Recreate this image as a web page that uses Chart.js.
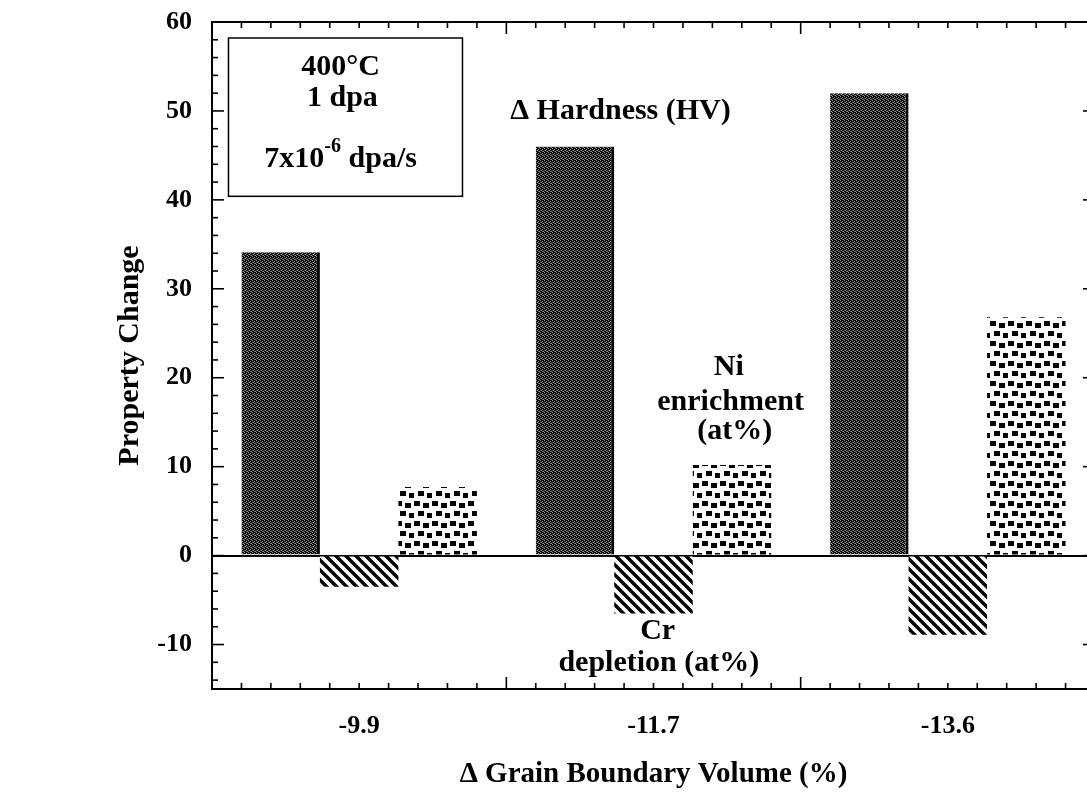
<!DOCTYPE html>
<html><head><meta charset="utf-8">
<script src="https://cdn.jsdelivr.net/npm/chart.js@4.4.1/dist/chart.umd.min.js"></script>
<style>
html,body{margin:0;padding:0;background:#fff;overflow:hidden;width:1087px;height:801px}
#wrap{position:relative;width:1110px;height:801px}
</style></head>
<body><div id="wrap"><canvas id="c" width="1110" height="801"></canvas></div>
<script>
// ---- data ----
const categories = ['-9.9', '-11.7', '-13.6'];
const hardness = [34.1, 46.0, 52.0];
const crDepletion = [-3.5, -6.5, -8.9];
const niEnrichment = [7.7, 10.2, 26.8];
const yTickValues = [-10, 0, 10, 20, 30, 40, 50, 60];
const yMin = -15, yMax = 60;

const FONT = '"Liberation Serif", "Times New Roman", Times, serif';

function makePattern(w, h, draw) {
  const c = document.createElement('canvas');
  c.width = w; c.height = h;
  const g = c.getContext('2d');
  draw(g, w, h);
  return g.createPattern(c, 'repeat');
}
const hardPat = makePattern(4, 4, (g) => {
  g.fillStyle = '#080808'; g.fillRect(0, 0, 4, 4);
  g.fillStyle = '#9a9a9a';
  [[0,0],[2,1],[1,2],[3,3]].forEach(p => g.fillRect(p[0], p[1], 1, 1));
  g.fillStyle = '#4a4a4a';
  [[2,3],[0,2]].forEach(p => g.fillRect(p[0], p[1], 1, 1));
});
const crPat = makePattern(10, 10, (g) => {
  g.fillStyle = '#fff'; g.fillRect(0, 0, 10, 10);
  g.strokeStyle = '#000'; g.lineWidth = 3.4; g.lineCap = 'square';
  [-10, 0, 10].forEach(o => { g.beginPath(); g.moveTo(o, 0); g.lineTo(o + 10, 10); g.stroke(); });
});
const niPat = makePattern(18, 20, (g) => {
  g.fillStyle = '#fff'; g.fillRect(0, 0, 18, 20);
  g.fillStyle = '#000';
  [[0,1],[9,3],[4,11],[13,13]].forEach(p => g.fillRect(p[0], p[1], 6, 5));
});

// annotation texts in data coordinates (x: category index, y: value)
const notes = [
  { t: '400°C', x: -0.063, y: 54.9 },
  { t: '1 dpa', x: -0.057, y: 51.4 },
  { t: 'Δ Hardness (HV)', x: 0.888, y: 50.0 },
  { t: 'Ni', x: 1.256, y: 21.2 },
  { t: 'enrichment', x: 1.262, y: 17.2 },
  { t: '(at%)', x: 1.276, y: 14.0 },
  { t: 'Cr', x: 1.014, y: -8.5 },
  { t: 'depletion (at%)', x: 1.018, y: -12.1 }
];
const infoBox = { x0: -0.444, x1: 0.351, y0: 58.2, y1: 40.4 };

const framePlugin = {
  id: 'frame',
  afterDatasetsDraw(chart) {
    const { ctx, chartArea: a, scales: { x, y } } = chart;
    ctx.save();
    ctx.strokeStyle = '#000';
    const line = (x1, y1, x2, y2) => { ctx.beginPath(); ctx.moveTo(x1, y1); ctx.lineTo(x2, y2); ctx.stroke(); };
    ctx.lineWidth = 2;
    ctx.strokeRect(a.left, a.top, a.right - a.left, a.bottom - a.top);
    ctx.lineWidth = 1.6;
    for (let v = -14; v <= 60; v += 2) {
      const py = y.getPixelForValue(v);
      const len = v % 10 === 0 ? 12 : 6;
      line(a.left, py, a.left + len, py);
      line(a.right, py, a.right - len, py);
    }
    for (let i = 0; i <= 10 * categories.length; i++) {
      const px = x.getPixelForValue(-0.5 + i / 10);
      const len = i % 10 === 0 ? 12 : 6;
      line(px, a.bottom, px, a.bottom - len);
      line(px, a.top, px, a.top + len);
    }
    // info box
    ctx.lineWidth = 1.5;
    const bx0 = x.getPixelForValue(infoBox.x0), bx1 = x.getPixelForValue(infoBox.x1);
    const by0 = y.getPixelForValue(infoBox.y0), by1 = y.getPixelForValue(infoBox.y1);
    ctx.strokeRect(bx0, by0, bx1 - bx0, by1 - by0);
    // texts
    ctx.fillStyle = '#000';
    ctx.textAlign = 'center';
    ctx.textBaseline = 'middle';
    ctx.font = 'bold 30px ' + FONT;
    notes.forEach(n => ctx.fillText(n.t, x.getPixelForValue(n.x), y.getPixelForValue(n.y)));
    // 7x10^-6 dpa/s
    const cx = x.getPixelForValue(-0.063), cy = y.getPixelForValue(44.6);
    const p1 = '7x10', p2 = '-6', p3 = ' dpa/s';
    ctx.font = 'bold 30px ' + FONT;
    const w1 = ctx.measureText(p1).width, w3 = ctx.measureText(p3).width;
    ctx.font = 'bold 20px ' + FONT;
    const w2 = ctx.measureText(p2).width;
    let sx = cx - (w1 + w2 + w3) / 2;
    ctx.textAlign = 'left';
    ctx.font = 'bold 30px ' + FONT;
    ctx.fillText(p1, sx, cy);
    ctx.font = 'bold 20px ' + FONT;
    ctx.fillText(p2, sx + w1, cy - 12);
    ctx.font = 'bold 30px ' + FONT;
    ctx.fillText(p3, sx + w1 + w2, cy);
    ctx.restore();
  }
};

new Chart(document.getElementById('c'), {
  type: 'bar',
  data: {
    labels: categories,
    datasets: [
      { label: 'Δ Hardness (HV)', data: hardness, backgroundColor: hardPat,
        borderColor: '#000', borderWidth: { left: 0, right: 3, top: 0, bottom: 0 }, borderSkipped: false },
      { label: 'Cr depletion (at%)', data: crDepletion, backgroundColor: crPat, borderWidth: 0 },
      { label: 'Ni enrichment (at%)', data: niEnrichment, backgroundColor: niPat, borderWidth: 0 }
    ]
  },
  options: {
    responsive: false,
    animation: false,
    devicePixelRatio: 1,
    events: [],
    layout: { padding: { top: 22, right: 15, left: 0, bottom: 0 } },
    datasets: { bar: { barPercentage: 1.0, categoryPercentage: 0.8 } },
    plugins: { legend: { display: false }, tooltip: { enabled: false } },
    scales: {
      x: {
        offset: true,
        grid: { display: false, drawTicks: false },
        border: { display: false },
        ticks: { color: '#000', padding: 22, font: { family: FONT, size: 26, weight: 'bold' } },
        title: { display: true, text: 'Δ Grain Boundary Volume (%)', color: '#000',
          padding: { top: 0, bottom: 9 }, font: { family: FONT, size: 29, weight: 'bold' } },
        afterFit(s) { s.height = 112; s.paddingLeft = 0; s.paddingRight = 0; }
      },
      y: {
        min: yMin, max: yMax,
        afterBuildTicks(s) { s.ticks = yTickValues.map(v => ({ value: v })); },
        grid: { drawTicks: false, lineWidth: 2,
          color: (c) => (c.tick && c.tick.value === 0) ? '#000' : 'rgba(0,0,0,0)' },
        border: { display: false },
        ticks: { color: '#000', padding: 20, font: { family: FONT, size: 26, weight: 'bold' } },
        title: { display: true, text: 'Property Change', color: '#000',
          padding: { top: 112, bottom: 0 }, font: { family: FONT, size: 30, weight: 'bold' } },
        afterFit(s) { s.width = 212; s.paddingTop = 0; s.paddingBottom = 0; }
      }
    }
  },
  plugins: [framePlugin]
});
</script>
</body></html>
